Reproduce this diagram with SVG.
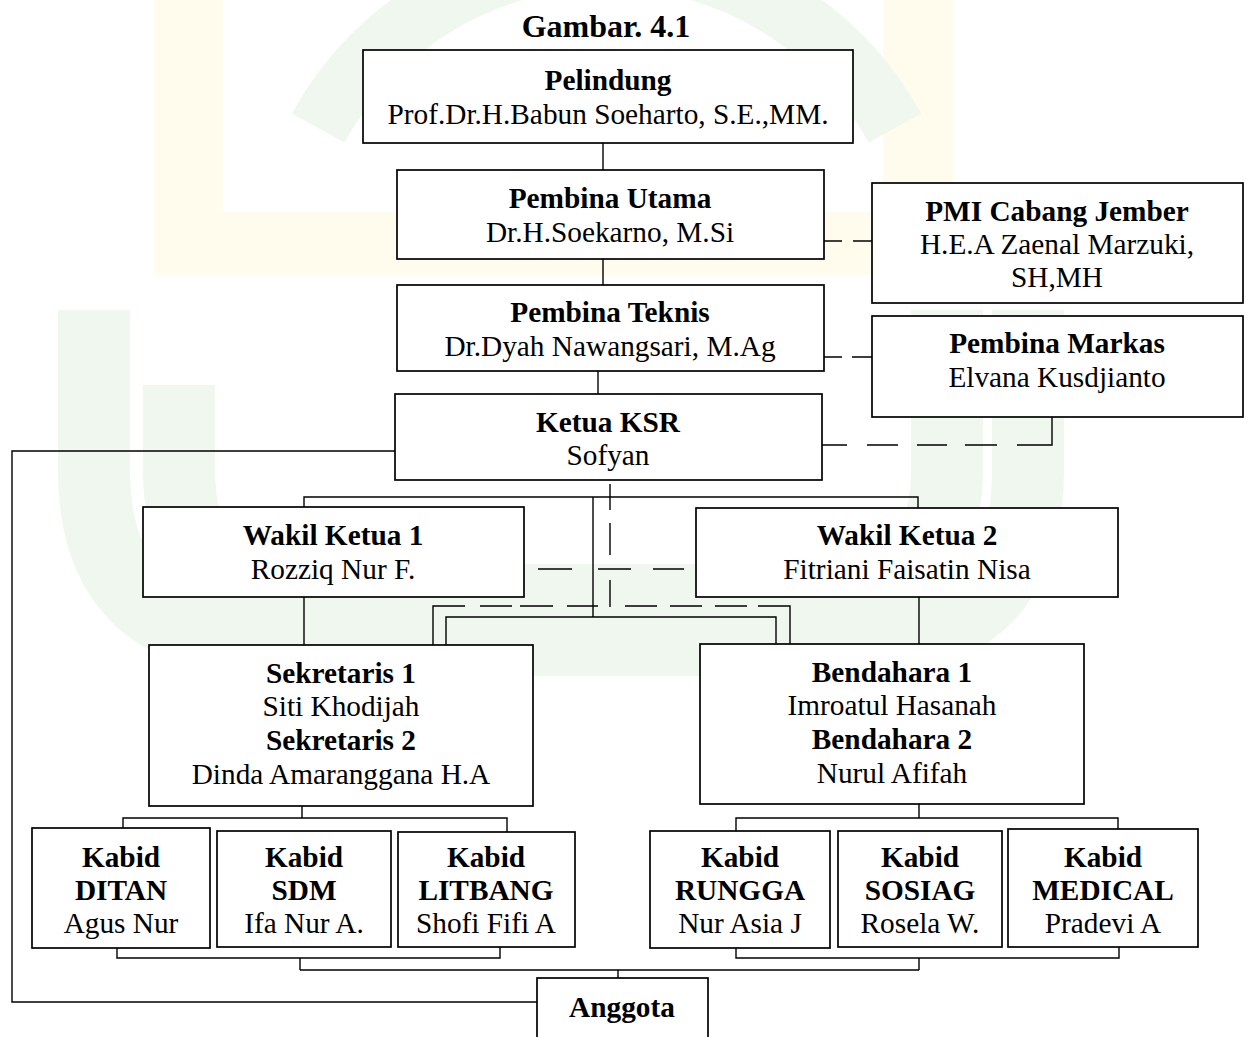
<svg xmlns="http://www.w3.org/2000/svg" width="1248" height="1037" viewBox="0 0 1248 1037">
<style>
.bg{fill:#ffffff}
.wy{fill:#fffcee}
.wg{fill:none;stroke:#eff7ef}
.box{fill:#ffffff;stroke:#000;stroke-width:1.7}
.ln{fill:none;stroke:#000;stroke-width:1.4}
.ds{fill:none;stroke:#000;stroke-width:1.4}
text{font-family:"Liberation Serif","Times New Roman",serif;font-size:29.3px;fill:#000;text-anchor:middle}
.b{font-weight:bold}
.title{font-size:32px;font-weight:bold}
</style>
<rect class="bg" x="0" y="0" width="1248" height="1037"/>
<g id="watermark">
<path class="wy" d="M154,0 H223 V212 H883 V0 H953 V275 H154 Z"/>
<path class="wg" stroke-width="72" d="M94,310 V470 Q94,640 270,640 H860 Q1028,640 1028,470 V310"/>
<path class="wg" stroke-width="72" d="M179,385 V470 Q179,600 310,600 H810 Q947,600 947,470 V310"/>
<path class="wg" stroke-width="60" d="M318,128 A330,330 0 0 1 895,128"/>
</g>
<text class="title" x="606" y="37">Gambar. 4.1</text>
<g id="connectors">
<path class="ln" d="M603,143 V170"/>
<path class="ln" d="M603,259 V285"/>
<path class="ln" d="M598,371 V394"/>
<path class="ds" d="M823,241 H842 M853,241 H872"/>
<path class="ds" d="M823,357 H842 M852,357 H872"/>
<path class="ds" d="M822,445 H847 M867,445 H898 M917,445 H947 M965,445 H997"/>
<path class="ln" d="M1017,445 H1052 V417"/>
<path class="ln" d="M395,451 H12 V1002 H537"/>
<path class="ln" d="M304,507 V497 H918 V508"/>
<path class="ln" d="M593,497 V617"/>
<path class="ln" d="M446,645 V617 H776 V644"/>
<path class="ds" d="M610,484 V510 M610,523 V555 M610,580 V607"/>
<path class="ln" d="M433,645 V606 H465"/>
<path class="ds" d="M480,606 H512 M520,606 H553 M567,606 H598 M625,606 H657 M670,606 H702 M715,606 H747"/>
<path class="ln" d="M758,606 H790 V644"/>
<path class="ds" d="M538,569 H572 M598,569 H631 M653,569 H684"/>
<path class="ln" d="M304,597 V645"/>
<path class="ln" d="M919,597 V644"/>
<path class="ln" d="M302,806 V818 M123,828 V818 H507 V832"/>
<path class="ln" d="M919,804 V818 M736,831 V818 H1118 V829"/>
<path class="ln" d="M117,948 V958 H500 V947 M300,958 V970"/>
<path class="ln" d="M736,948 V958 H1119 V947 M919,958 V970"/>
<path class="ln" d="M300,970 H919 M618,970 V978"/>
</g>
<g id="pelindung"><rect class="box" x="363" y="50" width="490" height="93"/>
<text class="b" x="608" y="90">Pelindung</text><text x="608" y="124">Prof.Dr.H.Babun Soeharto, S.E.,MM.</text></g>
<g id="pembina-utama"><rect class="box" x="397" y="170" width="427" height="89"/>
<text class="b" x="610" y="208">Pembina Utama</text><text x="610" y="242">Dr.H.Soekarno, M.Si</text></g>
<g id="pmi"><rect class="box" x="872" y="183" width="371" height="120"/>
<text class="b" x="1057" y="221">PMI Cabang Jember</text><text x="1057" y="254">H.E.A Zaenal Marzuki,</text><text x="1057" y="287">SH,MH</text></g>
<g id="pembina-teknis"><rect class="box" x="397" y="285" width="427" height="86"/>
<text class="b" x="610" y="322">Pembina Teknis</text><text x="610" y="356">Dr.Dyah Nawangsari, M.Ag</text></g>
<g id="pembina-markas"><rect class="box" x="872" y="316" width="371" height="101"/>
<text class="b" x="1057" y="353">Pembina Markas</text><text x="1057" y="387">Elvana Kusdjianto</text></g>
<g id="ketua"><rect class="box" x="395" y="394" width="427" height="86"/>
<text class="b" x="608" y="432">Ketua KSR</text><text x="608" y="465">Sofyan</text></g>
<g id="wakil1"><rect class="box" x="143" y="507" width="381" height="90"/>
<text class="b" x="333" y="545">Wakil Ketua 1</text><text x="333" y="579">Rozziq Nur F.</text></g>
<g id="wakil2"><rect class="box" x="696" y="508" width="422" height="89"/>
<text class="b" x="907" y="545">Wakil Ketua 2</text><text x="907" y="579">Fitriani Faisatin Nisa</text></g>
<g id="sekretaris"><rect class="box" x="149" y="645" width="384" height="161"/>
<text class="b" x="341" y="683">Sekretaris 1</text><text x="341" y="716">Siti Khodijah</text><text class="b" x="341" y="750">Sekretaris 2</text><text x="341" y="784">Dinda Amaranggana H.A</text></g>
<g id="bendahara"><rect class="box" x="700" y="644" width="384" height="160"/>
<text class="b" x="892" y="682">Bendahara 1</text><text x="892" y="715">Imroatul Hasanah</text><text class="b" x="892" y="749">Bendahara 2</text><text x="892" y="783">Nurul Afifah</text></g>
<g id="kabid-ditan"><rect class="box" x="32" y="828" width="178" height="120"/>
<text class="b" x="121" y="867">Kabid</text><text class="b" x="121" y="900">DITAN</text><text x="121" y="933">Agus Nur</text></g>
<g id="kabid-sdm"><rect class="box" x="217" y="831" width="174" height="116"/>
<text class="b" x="304" y="867">Kabid</text><text class="b" x="304" y="900">SDM</text><text x="304" y="933">Ifa Nur A.</text></g>
<g id="kabid-litbang"><rect class="box" x="398" y="832" width="177" height="115"/>
<text class="b" x="486" y="867">Kabid</text><text class="b" x="486" y="900">LITBANG</text><text x="486" y="933">Shofi Fifi A</text></g>
<g id="kabid-rungga"><rect class="box" x="650" y="831" width="180" height="117"/>
<text class="b" x="740" y="867">Kabid</text><text class="b" x="740" y="900">RUNGGA</text><text x="740" y="933">Nur Asia J</text></g>
<g id="kabid-sosiag"><rect class="box" x="838" y="831" width="164" height="116"/>
<text class="b" x="920" y="867">Kabid</text><text class="b" x="920" y="900">SOSIAG</text><text x="920" y="933">Rosela W.</text></g>
<g id="kabid-medical"><rect class="box" x="1008" y="829" width="190" height="118"/>
<text class="b" x="1103" y="867">Kabid</text><text class="b" x="1103" y="900">MEDICAL</text><text x="1103" y="933">Pradevi A</text></g>
<g id="anggota"><rect class="box" x="537" y="978" width="171" height="70"/>
<text class="b" x="622" y="1017">Anggota</text></g>
</svg>
